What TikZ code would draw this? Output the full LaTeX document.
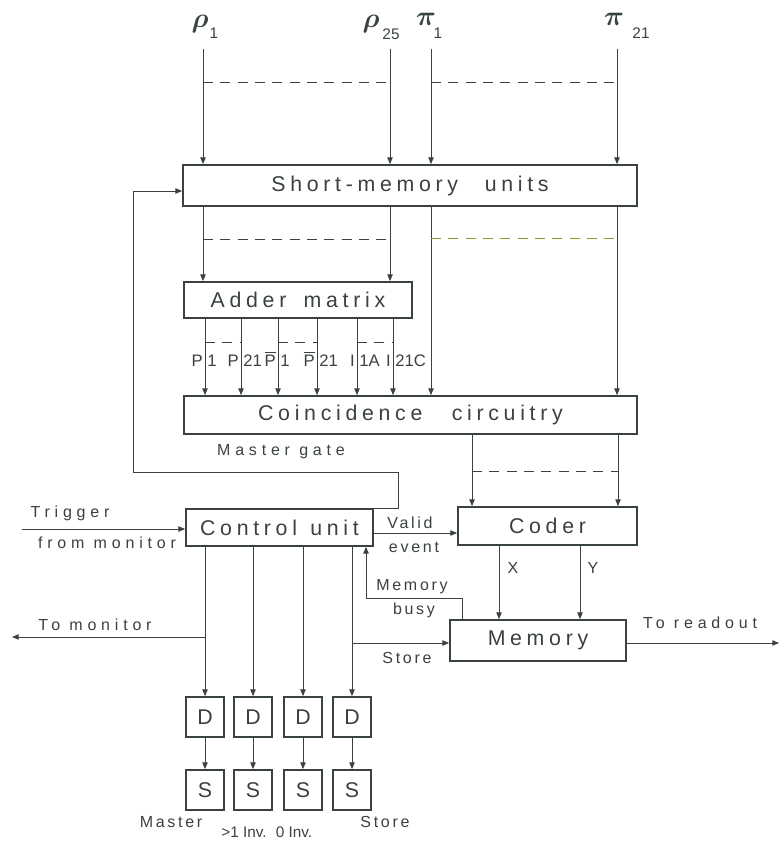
\documentclass[tikz,border=0pt]{standalone}
\usepackage{fontspec}
\setmainfont{Liberation Sans}
\newfontfamily\trackedbox{Liberation Sans}[LetterSpace=22]
\newfontfamily\trackedwide{Liberation Sans}[LetterSpace=30]
\newfontfamily\trackednarrow{Liberation Sans}[LetterSpace=17]
\newfontfamily\plainsans{Liberation Sans}
\usetikzlibrary{arrows.meta}
\definecolor{ink}{RGB}{58,66,60}
\definecolor{olivedash}{RGB}{150,150,40}
\newcommand\bxfont{\trackedbox\fontsize{16}{16}\selectfont}
\newcommand\wdfont{\trackedwide\fontsize{12}{12}\selectfont}
\newcommand\nrfont{\trackednarrow\fontsize{12}{12}\selectfont}
\newcommand\ptfont{\plainsans\fontsize{12.5}{13}\selectfont}
\newcommand\scfont{\plainsans\fontsize{11.5}{12}\selectfont}
\newcommand\gkfont{\boldmath\fontsize{21}{21}\selectfont}
\newcommand\subfont{\plainsans\fontsize{11.5}{12}\selectfont}
\begin{document}
\begin{tikzpicture}[x=0.75pt,y=-0.75pt,
  box/.style={draw=ink,line width=1.3pt,inner sep=0pt,text=ink,font=\bxfont},
  wire/.style={draw=ink,line width=0.65pt},
  arr/.style={wire,-{Triangle[length=5pt,width=4pt]}},
  dsh/.style={wire,dash pattern=on 7.5pt off 5.5pt},
  wlbl/.style={text=ink,inner sep=0pt,font=\wdfont},
  nlbl/.style={text=ink,inner sep=0pt,font=\nrfont},
  ptl/.style={text=ink,inner sep=0pt,font=\ptfont},
  scl/.style={text=ink,inner sep=0pt,font=\scfont},
  gk/.style={text=ink,inner sep=0pt,font=\gkfont},
  sub/.style={text=ink,inner sep=0pt,font=\subfont}]
\fill[white] (0,0) rectangle (781,842);
\useasboundingbox (0,0) rectangle (781,842);

% ---------- blocks ----------
\node[box,minimum width=340.5pt,minimum height=30.75pt] (sm) at (410,185.5) {Short-memory\hspace{20pt}units};
\node[box,minimum width=171pt,minimum height=27pt] (adder) at (298,300) {Adder\hspace{13pt}matrix};
\node[box,minimum width=339.75pt,minimum height=28.5pt] (coin) at (410.5,415) {Coincidence\hspace{22pt}circuitry};
\node[box,minimum width=134.25pt,minimum height=28.5pt] (coder) at (547.5,526) {Coder};
\node[box,minimum width=140.25pt,minimum height=27.75pt] (ctrl) at (279.5,527.5) {Control\hspace{10pt}unit};
\node[box,minimum width=132pt,minimum height=30.75pt] (mem) at (538,640.5) {Memory};
\foreach \i/\x in {1/205,2/253,3/303,4/352}{
  \node[box,minimum width=28.5pt,minimum height=30pt] (d\i) at (\x,717) {D};
  \node[box,minimum width=28.5pt,minimum height=30pt] (s\i) at (\x,790) {S};
}

% ---------- inputs ----------
\coordinate (r1) at (203,49);
\coordinate (r25) at (390,49);
\coordinate (p1) at (431,49);
\coordinate (p21) at (617,49);
\node[gk] (r1g) at (200,24) {$\rho$};
\node[sub] (r1s) at (214,33) {1};
\node[gk] (r25g) at (371,24) {$\rho$};
\node[sub] (r25s) at (391,34) {25};
\node[gk] (p1g) at (426,19) {$\pi$};
\node[sub] (p1s) at (438,33) {1};
\node[gk] (p21g) at (614,19) {$\pi$};
\node[sub] (p21s) at (641,33) {21};

\foreach \c in {r1,r25,p1,p21}
  \draw[arr] (\c) -- (\c |- sm.north);
\draw[dsh] (203,82) -- (390,82);
\draw[dsh] (431,82) -- (617,82);

% ---------- short-memory outputs ----------
\draw[arr] (sm.south -| r1) -- (adder.north -| r1);
\draw[arr] (sm.south -| r25) -- (adder.north -| r25);
\draw[arr] (sm.south -| p1) -- (coin.north -| p1);
\draw[arr] (sm.south -| p21) -- (coin.north -| p21);
\draw[dsh] (203,239) -- (390,239);
\draw[dsh,draw=olivedash] (431,238) -- (617,238);

% ---------- adder outputs ----------
\foreach \x in {205,241,278,317,357,393}
  \draw[arr] (adder.south -| \x,0) -- (coin.north -| \x,0);
\draw[dsh] (205,342) -- (241,342);
\draw[dsh] (278,342) -- (317,342);
\draw[dsh] (357,342) -- (393,342);
\foreach \x/\a/\b in {205/P/1,241/P/21,278/{$\overline{\hbox{P}}$}/1,317/{$\overline{\hbox{P}}$}/21,357/I/1A,393/I/21C}{
  \node[ptl,anchor=base east] at (\x-2,366) {\a};
  \node[ptl,anchor=base west] at (\x+2,366) {\b};
}

% ---------- coincidence to coder ----------
\draw[arr] (coin.south -| 472,0) -- (coder.north -| 472,0);
\draw[arr] (coin.south -| 618,0) -- (coder.north -| 618,0);
\draw[dsh] (472,471) -- (618,471);

% ---------- coder to memory ----------
\draw[arr] (coder.south -| 499,0) -- (mem.north -| 499,0);
\draw[arr] (coder.south -| 580,0) -- (mem.north -| 580,0);
\node[nlbl] at (513,568) {X};
\node[nlbl] at (593,568) {Y};

% ---------- master gate ----------
\coordinate (mg1) at (398,472);
\coordinate (mg2) at (133,472);
\draw[arr] (ctrl.north east) -| (mg1) -- (mg2) |- (sm.west |- 0,191);
\node[wlbl] at (281,452) {Master gate};

% ---------- trigger ----------
\coordinate (trg) at (22,529);
\draw[arr] (trg) -- (ctrl.west |- trg);
\node[wlbl] at (70,513) {Trigger};
\node[wlbl] at (107,543) {from monitor};

% ---------- valid event ----------
\draw[arr] (ctrl.east |- 0,533) -- (coder.west |- 0,533);
\node[nlbl] at (410,523) {Valid};
\node[nlbl] at (414,547) {event};

% ---------- memory busy ----------
\coordinate (mb) at (366,598);
\draw[arr] (mem.north -| 462,0) |- (mb) -- (ctrl.south -| mb);
\node[nlbl] at (412,587) {Memory};
\node[nlbl] at (414,610) {busy};

% ---------- control unit outputs ----------
\foreach \i in {1,2,3,4}{
  \draw[arr] (ctrl.south -| d\i) -- (d\i.north);
  \draw[arr] (d\i.south) -- (s\i.north);
}

% ---------- to monitor ----------
\coordinate (tm) at (12,637);
\draw[arr] (d1 |- tm) -- (tm);
\node[wlbl] at (95,625) {To monitor};

% ---------- store ----------
\draw[arr] (d4 |- 0,643) -- (mem.west |- 0,643);
\node[nlbl] at (407,658) {Store};

% ---------- to readout ----------
\coordinate (ro) at (779,643);
\draw[arr] (mem.east |- ro) -- (ro);
\node[wlbl] at (700,623) {To readout};

% ---------- scaler labels ----------
\node[nlbl] at (171,822) {Master};
\node[scl] at (244,832) {>1 Inv.};
\node[scl] at (294,832) {0 Inv.};
\node[nlbl] at (385,822) {Store};
\end{tikzpicture}
\end{document}
